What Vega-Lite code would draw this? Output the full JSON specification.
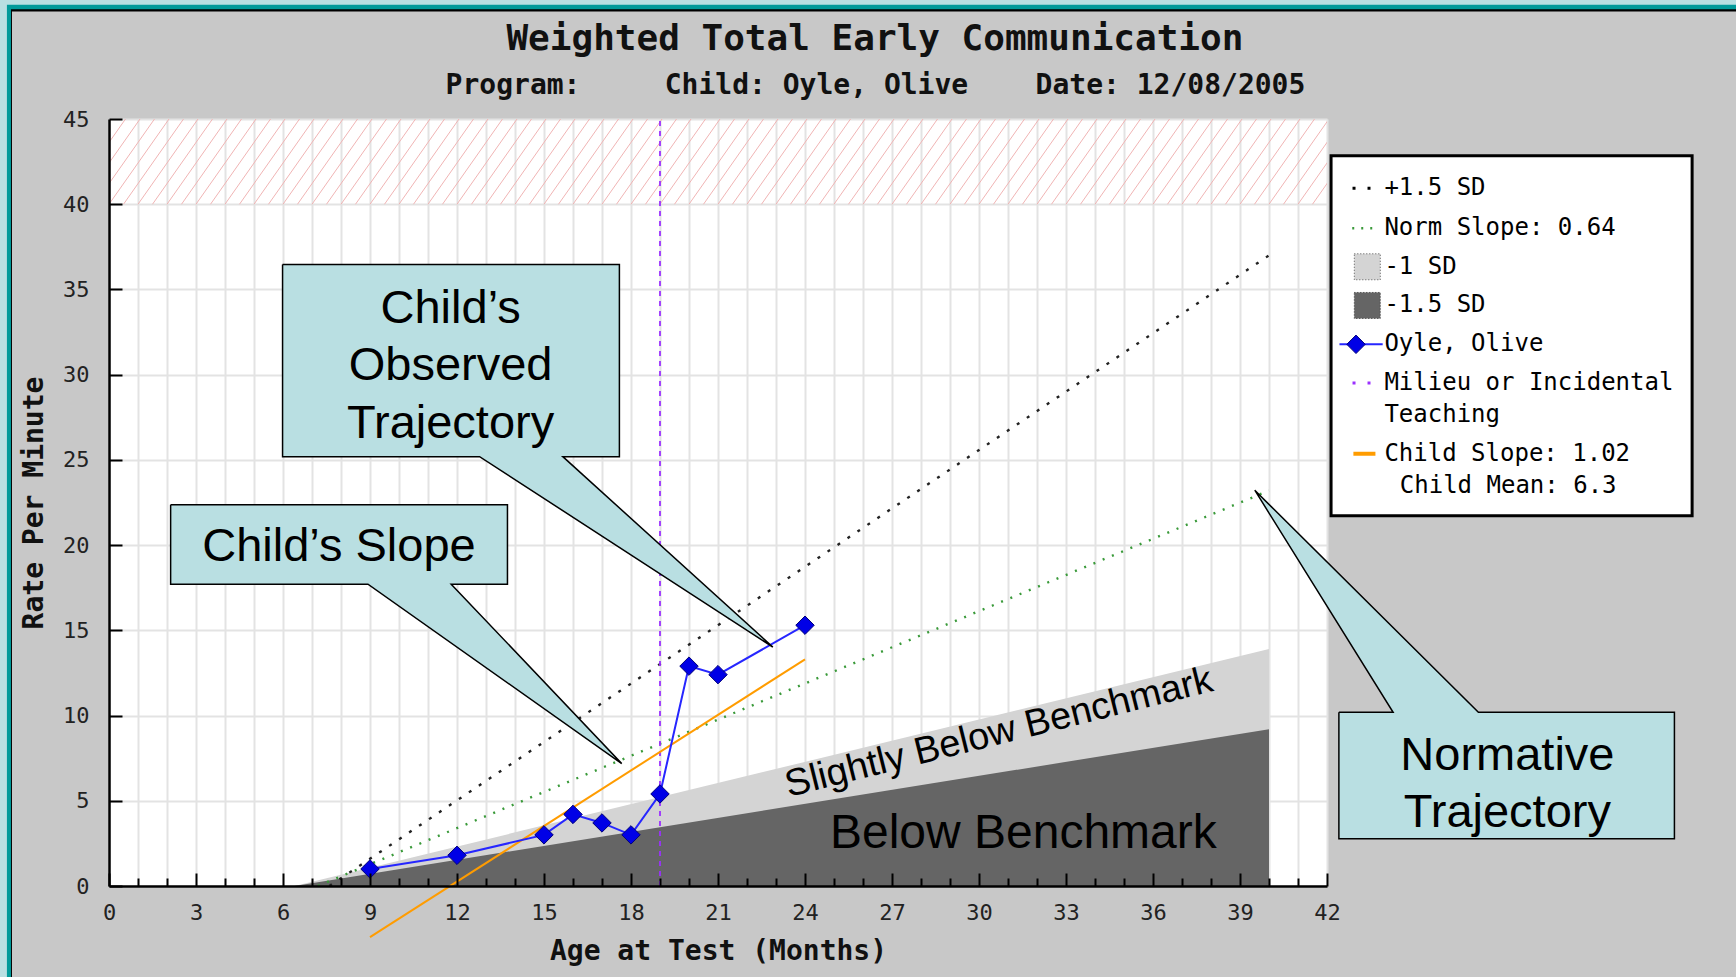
{
  "$schema": "https://vega.github.io/schema/vega-lite/v6.json",
  "width": 1218,
  "height": 767,
  "autosize": {"type": "none"},
  "padding": {"left": 109, "top": 119, "right": 409, "bottom": 91},
  "background": "#c8c8c8",
  "config": {"view": {"stroke": null, "fill": "white"}},
  "data": {"values": [{}]},
  "datasets": {
    "child": [
      {"month": 9, "rate": 1.0},
      {"month": 12, "rate": 1.8},
      {"month": 15, "rate": 3.0},
      {"month": 16, "rate": 4.2},
      {"month": 17, "rate": 3.7},
      {"month": 18, "rate": 3.0},
      {"month": 19, "rate": 5.4},
      {"month": 20, "rate": 12.9},
      {"month": 21, "rate": 12.4},
      {"month": 24, "rate": 15.3}
    ],
    "bands": [
      {"month": 6.4, "sd1": 0, "sd15": 0},
      {"month": 40, "sd1": 13.9, "sd15": 9.2}
    ],
    "plus15": [{"month": 7.6, "rate": 0}, {"month": 40, "rate": 37.0}],
    "norm": [{"month": 7.2, "rate": 0}, {"month": 40, "rate": 23.2}],
    "childslope": [{"month": 9, "rate": -3.0}, {"month": 24, "rate": 13.3}],
    "milieu": [{"month": 19}],
    "hatch": [
      {"hx": -3}, {"hx": -2.5}, {"hx": -2}, {"hx": -1.5}, {"hx": -1}, {"hx": -0.5},
      {"hx": 0}, {"hx": 0.5}, {"hx": 1}, {"hx": 1.5}, {"hx": 2}, {"hx": 2.5},
      {"hx": 3}, {"hx": 3.5}, {"hx": 4}, {"hx": 4.5}, {"hx": 5}, {"hx": 5.5},
      {"hx": 6}, {"hx": 6.5}, {"hx": 7}, {"hx": 7.5}, {"hx": 8}, {"hx": 8.5},
      {"hx": 9}, {"hx": 9.5}, {"hx": 10}, {"hx": 10.5}, {"hx": 11}, {"hx": 11.5},
      {"hx": 12}, {"hx": 12.5}, {"hx": 13}, {"hx": 13.5}, {"hx": 14}, {"hx": 14.5},
      {"hx": 15}, {"hx": 15.5}, {"hx": 16}, {"hx": 16.5}, {"hx": 17}, {"hx": 17.5},
      {"hx": 18}, {"hx": 18.5}, {"hx": 19}, {"hx": 19.5}, {"hx": 20}, {"hx": 20.5},
      {"hx": 21}, {"hx": 21.5}, {"hx": 22}, {"hx": 22.5}, {"hx": 23}, {"hx": 23.5},
      {"hx": 24}, {"hx": 24.5}, {"hx": 25}, {"hx": 25.5}, {"hx": 26}, {"hx": 26.5},
      {"hx": 27}, {"hx": 27.5}, {"hx": 28}, {"hx": 28.5}, {"hx": 29}, {"hx": 29.5},
      {"hx": 30}, {"hx": 30.5}, {"hx": 31}, {"hx": 31.5}, {"hx": 32}, {"hx": 32.5},
      {"hx": 33}, {"hx": 33.5}, {"hx": 34}, {"hx": 34.5}, {"hx": 35}, {"hx": 35.5},
      {"hx": 36}, {"hx": 36.5}, {"hx": 37}, {"hx": 37.5}, {"hx": 38}, {"hx": 38.5},
      {"hx": 39}, {"hx": 39.5}, {"hx": 40}, {"hx": 40.5}, {"hx": 41}, {"hx": 41.5}
    ],
    "callouts": [
      {"callout": "observed", "i": 1, "x": 5.985, "y": 36.47},
      {"callout": "observed", "i": 2, "x": 17.6, "y": 36.47},
      {"callout": "observed", "i": 3, "x": 17.6, "y": 25.19},
      {"callout": "observed", "i": 4, "x": 15.65, "y": 25.19},
      {"callout": "observed", "i": 5, "x": 22.89, "y": 14.02},
      {"callout": "observed", "i": 6, "x": 12.78, "y": 25.19},
      {"callout": "observed", "i": 7, "x": 5.985, "y": 25.19},
      {"callout": "observed", "i": 8, "x": 5.985, "y": 36.47},
      {"callout": "slope", "i": 1, "x": 2.125, "y": 22.37},
      {"callout": "slope", "i": 2, "x": 13.74, "y": 22.37},
      {"callout": "slope", "i": 3, "x": 13.74, "y": 17.71},
      {"callout": "slope", "i": 4, "x": 11.8, "y": 17.71},
      {"callout": "slope", "i": 5, "x": 17.68, "y": 7.18},
      {"callout": "slope", "i": 6, "x": 8.93, "y": 17.71},
      {"callout": "slope", "i": 7, "x": 2.125, "y": 17.71},
      {"callout": "slope", "i": 8, "x": 2.125, "y": 22.37},
      {"callout": "normative", "i": 1, "x": 42.41, "y": 10.19},
      {"callout": "normative", "i": 2, "x": 44.28, "y": 10.19},
      {"callout": "normative", "i": 3, "x": 39.51, "y": 23.22},
      {"callout": "normative", "i": 4, "x": 47.22, "y": 10.19},
      {"callout": "normative", "i": 5, "x": 53.98, "y": 10.19},
      {"callout": "normative", "i": 6, "x": 53.98, "y": 2.77},
      {"callout": "normative", "i": 7, "x": 42.41, "y": 2.77},
      {"callout": "normative", "i": 8, "x": 42.41, "y": 10.19}
    ]
  },
  "resolve": {"axis": {"x": "independent", "y": "independent"}},
  "layer": [
    {
      "mark": {"type": "rect", "color": "#000000"},
      "encoding": {
        "x": {"datum": -5, "axis": null}, "x2": {"datum": -3.346},
        "y": {"datum": 52, "axis": null}, "y2": {"datum": -10}
      }
    },
    {
      "mark": {"type": "rect", "color": "#000000"},
      "encoding": {
        "x": {"datum": -3.38, "axis": null}, "x2": {"datum": 70},
        "y": {"datum": 52, "axis": null}, "y2": {"datum": 51.3}
      }
    },
    {
      "mark": {"type": "rect", "color": "#009a9a"},
      "encoding": {
        "x": {"datum": -5, "axis": null}, "x2": {"datum": -3.38},
        "y": {"datum": 52, "axis": null}, "y2": {"datum": -10}
      }
    },
    {
      "mark": {"type": "rect", "color": "#009a9a"},
      "encoding": {
        "x": {"datum": -3.52, "axis": null}, "x2": {"datum": 70},
        "y": {"datum": 52, "axis": null}, "y2": {"datum": 51.44}
      }
    },
    {
      "mark": {"type": "rect", "color": "#b8dfe2"},
      "encoding": {
        "x": {"datum": -5, "axis": null}, "x2": {"datum": -3.52},
        "y": {"datum": 52, "axis": null}, "y2": {"datum": -10}
      }
    },
    {
      "mark": {"type": "rect", "color": "#b8dfe2"},
      "encoding": {
        "x": {"datum": -5, "axis": null}, "x2": {"datum": 70},
        "y": {"datum": 52, "axis": null}, "y2": {"datum": 51.7}
      }
    },
    {
      "mark": {"type": "text", "text": "Weighted Total Early Communication", "font": "DejaVu Sans Mono", "fontSize": 36, "fontWeight": "bold", "align": "center", "baseline": "middle", "color": "#111111"},
      "encoding": {"x": {"datum": 26.41, "axis": null}, "y": {"datum": 49.67, "axis": null}}
    },
    {
      "mark": {"type": "text", "text": "Program:\u00a0\u00a0\u00a0\u00a0\u00a0Child: Oyle, Olive\u00a0\u00a0\u00a0\u00a0Date: 12/08/2005", "font": "DejaVu Sans Mono", "fontSize": 28, "fontWeight": "bold", "align": "center", "baseline": "middle", "color": "#111111"},
      "encoding": {"x": {"datum": 26.43, "axis": null}, "y": {"datum": 46.94, "axis": null}}
    },
    {
      "data": {"name": "bands"},
      "mark": {"type": "area", "color": "#d4d4d4", "opacity": 1},
      "encoding": {
        "x": {
          "field": "month", "type": "quantitative",
          "scale": {"domain": [0, 42], "nice": false, "zero": false},
          "axis": {
            "orient": "bottom", "grid": true, "gridColor": "#e3e3e3", "gridWidth": 2,
            "values": [0,1,2,3,4,5,6,7,8,9,10,11,12,13,14,15,16,17,18,19,20,21,22,23,24,25,26,27,28,29,30,31,32,33,34,35,36,37,38,39,40,41,42],
            "domain": false, "ticks": false, "labels": false, "title": null, "zindex": 0
          }
        },
        "y": {
          "field": "sd1", "type": "quantitative",
          "scale": {"domain": [0, 45], "nice": false, "zero": false},
          "axis": {
            "orient": "left", "grid": true, "gridColor": "#e3e3e3", "gridWidth": 2,
            "values": [0,5,10,15,20,25,30,35,40,45],
            "domain": false, "ticks": false, "labels": false, "title": null, "zindex": 0
          }
        },
        "y2": {"datum": 0}
      }
    },
    {
      "data": {"name": "bands"},
      "mark": {"type": "area", "color": "#656565", "opacity": 1},
      "encoding": {
        "x": {"field": "month", "type": "quantitative", "axis": null},
        "y": {"field": "sd15", "type": "quantitative", "axis": null},
        "y2": {"datum": 0}
      }
    },
    {
      "data": {"name": "hatch"},
      "mark": {"type": "rule", "color": "#f0b4b4", "strokeWidth": 1, "clip": true, "x2Offset": 60},
      "encoding": {
        "x": {"field": "hx", "type": "quantitative", "axis": null},
        "x2": {"field": "hx"},
        "y": {"datum": 40, "axis": null},
        "y2": {"datum": 45}
      }
    },
    {
      "data": {"name": "plus15"},
      "mark": {"type": "line", "color": "#222222", "strokeWidth": 2.4, "strokeDash": [3, 9]},
      "encoding": {
        "x": {"field": "month", "type": "quantitative", "axis": null},
        "y": {"field": "rate", "type": "quantitative", "axis": null}
      }
    },
    {
      "data": {"name": "norm"},
      "mark": {"type": "line", "color": "#3a9a3a", "strokeWidth": 2.4, "strokeDash": [2, 8]},
      "encoding": {
        "x": {"field": "month", "type": "quantitative", "axis": null},
        "y": {"field": "rate", "type": "quantitative", "axis": null}
      }
    },
    {
      "data": {"name": "milieu"},
      "mark": {"type": "rule", "color": "#9b30ff", "strokeWidth": 1.8, "strokeDash": [5, 5]},
      "encoding": {
        "x": {"field": "month", "type": "quantitative", "axis": null},
        "y": {"datum": 0, "axis": null},
        "y2": {"datum": 45}
      }
    },
    {
      "data": {"name": "childslope"},
      "mark": {"type": "line", "color": "#ff9c00", "strokeWidth": 2},
      "encoding": {
        "x": {"field": "month", "type": "quantitative", "axis": null},
        "y": {"field": "rate", "type": "quantitative", "axis": null}
      }
    },
    {
      "data": {"name": "child"},
      "mark": {
        "type": "line", "color": "#2626ff", "strokeWidth": 2,
        "point": {"shape": "diamond", "size": 340, "filled": true, "fill": "#0000e6", "stroke": "#00007a", "strokeWidth": 1}
      },
      "encoding": {
        "x": {
          "field": "month", "type": "quantitative",
          "scale": {"domain": [0, 42], "nice": false, "zero": false},
          "axis": {
            "orient": "bottom", "grid": false, "zindex": 1,
            "values": [0,1,2,3,4,5,6,7,8,9,10,11,12,13,14,15,16,17,18,19,20,21,22,23,24,25,26,27,28,29,30,31,32,33,34,35,36,37,38,39,40,41,42],
            "tickSize": {"condition": {"test": "datum.value % 3 === 0", "value": -13}, "value": -8},
            "tickColor": "#000000", "tickWidth": 2,
            "domainColor": "#000000", "domainWidth": 2.5,
            "labelExpr": "datum.value % 3 === 0 ? datum.label : ''",
            "labelFont": "DejaVu Sans Mono", "labelFontSize": 22, "labelColor": "#222222",
            "labelPadding": 29, "labelFlush": false, "labelOverlap": false,
            "title": "Age at Test (Months)",
            "titleFont": "DejaVu Sans Mono", "titleFontSize": 28, "titleFontWeight": "bold",
            "titleColor": "#111111", "titlePadding": 9
          }
        },
        "y": {
          "field": "rate", "type": "quantitative",
          "scale": {"domain": [0, 45], "nice": false, "zero": false},
          "axis": {
            "orient": "left", "grid": false, "zindex": 1,
            "values": [0,5,10,15,20,25,30,35,40,45],
            "tickSize": -13, "tickColor": "#000000", "tickWidth": 2,
            "domainColor": "#000000", "domainWidth": 2.5,
            "labelFont": "DejaVu Sans Mono", "labelFontSize": 22, "labelColor": "#222222",
            "labelPadding": 33, "labelOverlap": false, "labelFlush": false,
            "title": "Rate Per Minute",
            "titleFont": "DejaVu Sans Mono", "titleFontSize": 28, "titleFontWeight": "bold",
            "titleColor": "#111111", "titlePadding": 14
          }
        }
      }
    },
    {
      "mark": {"type": "text", "text": "Slightly Below Benchmark", "font": "Liberation Sans", "fontSize": 38, "angle": 346, "align": "center", "baseline": "middle", "color": "#000000"},
      "encoding": {"x": {"datum": 30.69, "axis": null}, "y": {"datum": 8.97, "axis": null}}
    },
    {
      "mark": {"type": "text", "text": "Below Benchmark", "font": "Liberation Sans", "fontSize": 48, "align": "center", "baseline": "middle", "color": "#000000"},
      "encoding": {"x": {"datum": 31.53, "axis": null}, "y": {"datum": 3.05, "axis": null}}
    },
    {
      "data": {"name": "callouts"},
      "mark": {"type": "line", "fill": "#b9dfe2", "stroke": "#000000", "strokeWidth": 1.5, "interpolate": "linear"},
      "encoding": {
        "x": {"field": "x", "type": "quantitative", "axis": null},
        "y": {"field": "y", "type": "quantitative", "axis": null},
        "detail": {"field": "callout"},
        "order": {"field": "i"}
      }
    },
    {
      "mark": {"type": "text", "text": ["Child’s", "Observed", "Trajectory"], "lineHeight": 57.5, "font": "Liberation Sans", "fontSize": 47, "align": "center", "baseline": "middle", "color": "#000000"},
      "encoding": {"x": {"datum": 11.78, "axis": null}, "y": {"datum": 33.86, "axis": null}}
    },
    {
      "mark": {"type": "text", "text": "Child’s Slope", "font": "Liberation Sans", "fontSize": 47, "align": "center", "baseline": "middle", "color": "#000000"},
      "encoding": {"x": {"datum": 7.93, "axis": null}, "y": {"datum": 19.91, "axis": null}}
    },
    {
      "mark": {"type": "text", "text": ["Normative", "Trajectory"], "lineHeight": 57.5, "font": "Liberation Sans", "fontSize": 47, "align": "center", "baseline": "middle", "color": "#000000"},
      "encoding": {"x": {"datum": 48.22, "axis": null}, "y": {"datum": 7.64, "axis": null}}
    },
    {
      "mark": {"type": "rect", "fill": "#ffffff", "stroke": "#000000", "strokeWidth": 3},
      "encoding": {
        "x": {"datum": 42.14, "axis": null}, "x2": {"datum": 54.59},
        "y": {"datum": 42.84, "axis": null}, "y2": {"datum": 21.72}
      }
    },
    {
      "mark": {"type": "rule", "color": "#000000", "strokeWidth": 3, "strokeDash": [3, 12]},
      "encoding": {"x": {"datum": 42.88, "axis": null}, "x2": {"datum": 43.5}, "y": {"datum": 40.93, "axis": null}}
    },
    {
      "mark": {"type": "rule", "color": "#3a9a3a", "strokeWidth": 2.5, "strokeDash": [2, 7]},
      "encoding": {"x": {"datum": 42.87, "axis": null}, "x2": {"datum": 43.56}, "y": {"datum": 38.59, "axis": null}}
    },
    {
      "mark": {"type": "point", "shape": "square", "size": 676, "filled": true, "fill": "#d4d4d4", "stroke": "#555555", "strokeWidth": 1, "strokeDash": [1, 2], "opacity": 1},
      "encoding": {"x": {"datum": 43.39, "axis": null}, "y": {"datum": 36.33, "axis": null}}
    },
    {
      "mark": {"type": "point", "shape": "square", "size": 676, "filled": true, "fill": "#656565", "stroke": "#333333", "strokeWidth": 1, "strokeDash": [1, 2], "opacity": 1},
      "encoding": {"x": {"datum": 43.39, "axis": null}, "y": {"datum": 34.06, "axis": null}}
    },
    {
      "mark": {"type": "rule", "color": "#2626ff", "strokeWidth": 2},
      "encoding": {"x": {"datum": 42.43, "axis": null}, "x2": {"datum": 43.92}, "y": {"datum": 31.78, "axis": null}}
    },
    {
      "mark": {"type": "point", "shape": "diamond", "size": 340, "filled": true, "fill": "#0000e6", "stroke": "#00007a", "strokeWidth": 1, "opacity": 1},
      "encoding": {"x": {"datum": 43.0, "axis": null}, "y": {"datum": 31.78, "axis": null}}
    },
    {
      "mark": {"type": "rule", "color": "#9b30ff", "strokeWidth": 3, "strokeDash": [3, 12]},
      "encoding": {"x": {"datum": 42.88, "axis": null}, "x2": {"datum": 43.5}, "y": {"datum": 29.51, "axis": null}}
    },
    {
      "mark": {"type": "rule", "color": "#ff9c00", "strokeWidth": 4},
      "encoding": {"x": {"datum": 42.91, "axis": null}, "x2": {"datum": 43.67}, "y": {"datum": 25.36, "axis": null}}
    },
    {
      "mark": {"type": "text", "text": "+1.5 SD", "font": "DejaVu Sans Mono", "fontSize": 24, "align": "left", "baseline": "middle", "color": "#000000"},
      "encoding": {"x": {"datum": 43.98, "axis": null}, "y": {"datum": 40.93, "axis": null}}
    },
    {
      "mark": {"type": "text", "text": "Norm Slope: 0.64", "font": "DejaVu Sans Mono", "fontSize": 24, "align": "left", "baseline": "middle", "color": "#000000"},
      "encoding": {"x": {"datum": 43.98, "axis": null}, "y": {"datum": 38.59, "axis": null}}
    },
    {
      "mark": {"type": "text", "text": "-1 SD", "font": "DejaVu Sans Mono", "fontSize": 24, "align": "left", "baseline": "middle", "color": "#000000"},
      "encoding": {"x": {"datum": 43.98, "axis": null}, "y": {"datum": 36.32, "axis": null}}
    },
    {
      "mark": {"type": "text", "text": "-1.5 SD", "font": "DejaVu Sans Mono", "fontSize": 24, "align": "left", "baseline": "middle", "color": "#000000"},
      "encoding": {"x": {"datum": 43.98, "axis": null}, "y": {"datum": 34.06, "axis": null}}
    },
    {
      "mark": {"type": "text", "text": "Oyle, Olive", "font": "DejaVu Sans Mono", "fontSize": 24, "align": "left", "baseline": "middle", "color": "#000000"},
      "encoding": {"x": {"datum": 43.98, "axis": null}, "y": {"datum": 31.78, "axis": null}}
    },
    {
      "mark": {"type": "text", "text": "Milieu or Incidental", "font": "DejaVu Sans Mono", "fontSize": 24, "align": "left", "baseline": "middle", "color": "#000000"},
      "encoding": {"x": {"datum": 43.98, "axis": null}, "y": {"datum": 29.51, "axis": null}}
    },
    {
      "mark": {"type": "text", "text": "Teaching", "font": "DejaVu Sans Mono", "fontSize": 24, "align": "left", "baseline": "middle", "color": "#000000"},
      "encoding": {"x": {"datum": 43.98, "axis": null}, "y": {"datum": 27.62, "axis": null}}
    },
    {
      "mark": {"type": "text", "text": "Child Slope: 1.02", "font": "DejaVu Sans Mono", "fontSize": 24, "align": "left", "baseline": "middle", "color": "#000000"},
      "encoding": {"x": {"datum": 43.98, "axis": null}, "y": {"datum": 25.36, "axis": null}}
    },
    {
      "mark": {"type": "text", "text": "Child Mean: 6.3", "font": "DejaVu Sans Mono", "fontSize": 24, "align": "left", "baseline": "middle", "color": "#000000"},
      "encoding": {"x": {"datum": 44.51, "axis": null}, "y": {"datum": 23.47, "axis": null}}
    }
  ]
}
